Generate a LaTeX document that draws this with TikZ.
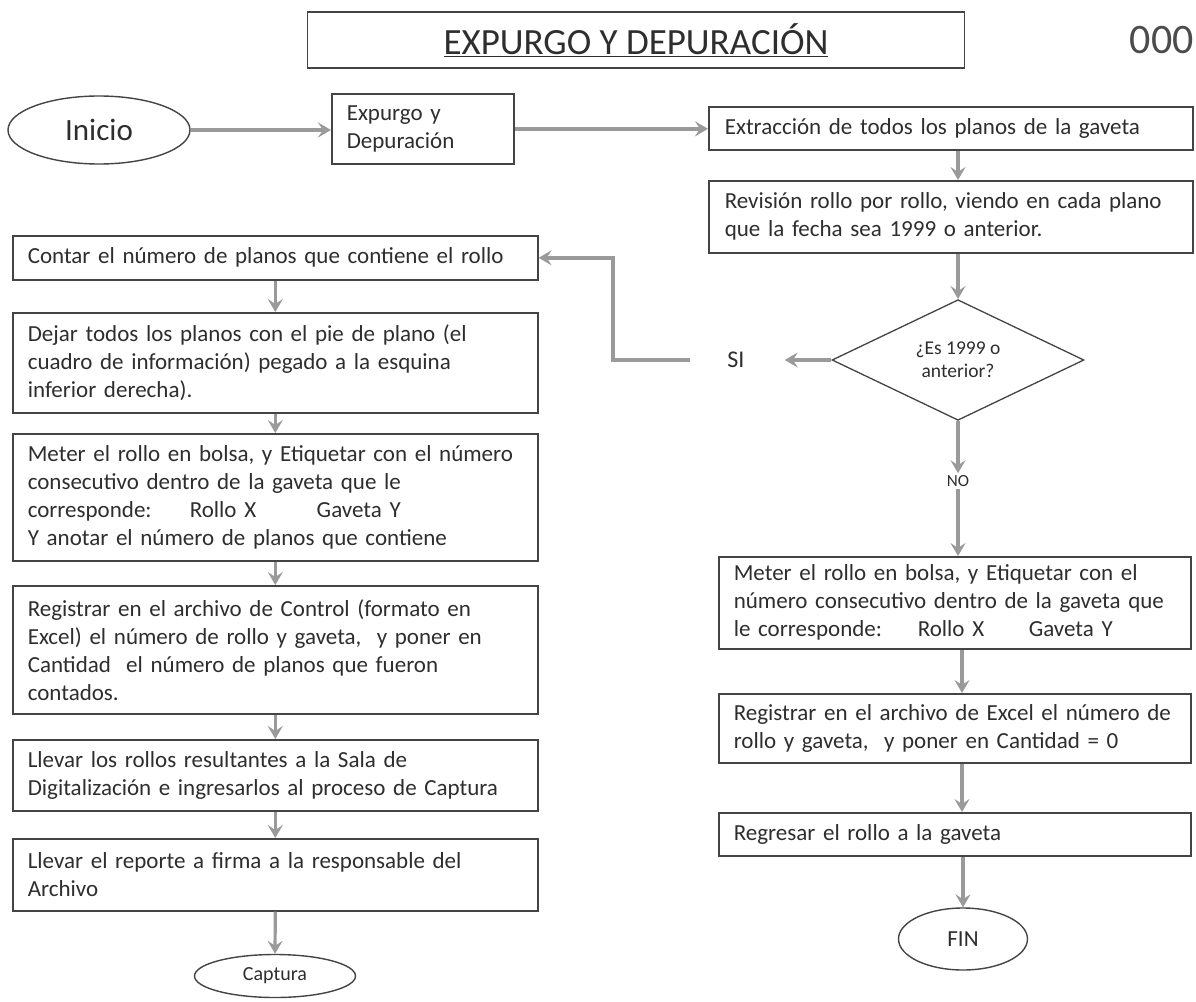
\documentclass[tikz,border=0pt]{standalone}
\usepackage{fontspec}
\setmainfont{Carlito}
\usetikzlibrary{arrows.meta,shapes.geometric,calc}
\definecolor{ink}{HTML}{2E2E2E}
\definecolor{edge}{HTML}{444444}
\definecolor{flow}{HTML}{9A9A9A}
\newcommand\tline[1]{\mbox{#1}}
\begin{document}
\begin{tikzpicture}[x=1pt,y=-1pt,
  every node/.style={text=ink},
  body/.style={font=\fontsize{23}{28}\selectfont},
  pbox/.style={body, draw=edge, line width=1.6pt, anchor=north west, align=left,
    inner xsep=15pt, inner ysep=3pt},
  term/.style={draw=edge, ellipse, line width=1.4pt, inner sep=0pt},
  flow/.style={draw=flow, line width=3.2pt,
    -{Stealth[length=13pt,width=15pt,inset=5pt]}},
  flowwide/.style={flow, line width=4.5pt},
]
\fill[white] (0,0) rectangle (1196,1001);
\useasboundingbox (0,0) rectangle (1196,1001);

% heading
\node[draw=edge, line width=1.6pt, minimum width=657pt, minimum height=56pt,
  font=\fontsize{37}{40}\selectfont] (title) at (636,40)
  {\underline{EXPURGO Y DEPURACIÓN}};
\node[anchor=east, inner sep=0pt, text=gray!60!black, font=\fontsize{42}{44}\selectfont]
  (folio) at (1194,40) {000};

% top row
\node[term, minimum width=182pt, minimum height=68pt, font=\fontsize{31}{34}\selectfont]
  (inicio) at (99,130) {Inicio};
\node[pbox, text width=152pt, minimum height=70pt] (expurgo) at (331,93)
  {Expurgo y\\Depuración};
\node[pbox, text width=452pt, inner xsep=16pt, minimum height=43pt] (extr) at (708,106)
  {\tline{Extracción de todos los planos de la gaveta}};

% right column
\coordinate (colR) at (958,0);
\coordinate (colRlow) at (962,0);
\node[pbox, text width=452pt, inner xsep=16pt, minimum height=72pt] (rev) at (708,180)
  {\tline{Revisión rollo por rollo, viendo en cada plano}\\
   \tline{que la fecha sea 1999 o anterior.}};
\node[diamond, draw=edge, line width=1.3pt, inner sep=0pt, minimum width=252pt,
  minimum height=120pt, align=center, font=\fontsize{19.5}{23}\selectfont]
  (dec) at (958,360) {¿Es 1999 o\\anterior?};
\node[body, font=\fontsize{24}{28}\selectfont, inner sep=0pt] (si) at (736,360) {SI};
\node[font=\fontsize{17}{20}\selectfont, inner sep=2pt] (no) at (958,481) {NO};
\node[pbox, text width=442pt, minimum height=92pt] (meterR) at (718,556)
  {\tline{Meter el rollo en bolsa, y Etiquetar con el}\\
   \tline{número consecutivo dentro de la gaveta que}\\
   \tline{\makebox[184pt][l]{le corresponde:}\makebox[111pt][l]{Rollo X}Gaveta Y}};
\node[pbox, text width=442pt, minimum height=69pt] (regR) at (718,693)
  {\tline{Registrar en el archivo de Excel el número de}\\
   \tline{rollo y gaveta,\ \ y poner en Cantidad = 0}};
\node[pbox, text width=442pt, minimum height=43pt] (regresar) at (718,812)
  {\tline{Regresar el rollo a la gaveta}};
\node[term, minimum width=129pt, minimum height=62pt, font=\fontsize{23}{26}\selectfont]
  (fin) at (963,939) {FIN};

% left column
\node[pbox, text width=495pt, minimum height=44pt] (contar) at (12,235)
  {\tline{Contar el número de planos que contiene el rollo}};
\node[pbox, text width=495pt, minimum height=100pt] (dejar) at (12,312)
  {\tline{Dejar todos los planos con el pie de plano (el}\\
   \tline{cuadro de información) pegado a la esquina}\\
   \tline{inferior derecha).}};
\node[pbox, text width=495pt, minimum height=127pt] (meterL) at (12,433)
  {\tline{Meter el rollo en bolsa, y Etiquetar con el número}\\
   \tline{consecutivo dentro de la gaveta que le}\\
   \tline{\makebox[162pt][l]{corresponde:}\makebox[127pt][l]{Rollo X}Gaveta Y}\\
   \tline{Y anotar el número de planos que contiene}};
\node[pbox, text width=495pt, minimum height=128pt] (regL) at (12,585)
  {\tline{Registrar en el archivo de Control (formato en}\\
   \tline{Excel) el número de rollo y gaveta,\ \ y poner en}\\
   \tline{Cantidad\ \ el número de planos que fueron}\\
   \tline{contados.}};
\node[pbox, text width=495pt, minimum height=71pt] (llevarA) at (12,739)
  {\tline{Llevar los rollos resultantes a la Sala de}\\
   \tline{Digitalización e ingresarlos al proceso de Captura}};
\node[pbox, text width=495pt, minimum height=72pt] (llevarB) at (12,838)
  {\tline{Llevar el reporte a firma a la responsable del}\\
   \tline{Archivo}};
\node[term, minimum width=161pt, minimum height=43pt, font=\fontsize{20}{24}\selectfont]
  (captura) at (275,976) {Captura};

% connectors, top row
\draw[flowwide] (inicio.east) -- (inicio.east -| expurgo.west);
\draw[flowwide] (expurgo.east) -- (expurgo.east -| extr.west);

% connectors, right column
\draw[flow] (extr.south -| colR) -- (rev.north -| colR);
\draw[flow] (rev.south -| dec.north) -- (dec.north);
\draw[flow] (dec.west) -- (si.east) [shorten >=40pt];
\draw[flow] (dec.south) -- (no.north);
\draw[flow] (no.south) -- (meterR.north -| no.south);
\draw[flow] (meterR.south -| colRlow) -- (regR.north -| colRlow);
\draw[flow] (regR.south -| colRlow) -- (regresar.north -| colRlow);
\draw[flow] (regresar.south -| fin.north) -- (fin.north);

% "SI" branch back to the left column
\coordinate (loopstart) at (690,360);
\coordinate (loopx) at (613,0);
\draw[flow, line width=4pt] (loopstart) -- (loopstart -| loopx) |- (contar.east);

% connectors, left column
\draw[flow] (contar.south) -- (dejar.north);
\draw[flow] (dejar.south) -- (meterL.north);
\draw[flow] (meterL.south) -- (regL.north);
\draw[flow] (regL.south) -- (llevarA.north);
\draw[flow] (llevarA.south) -- (llevarB.north);
\draw[flow] (llevarB.south) -- (captura.north);
\end{tikzpicture}
\end{document}
